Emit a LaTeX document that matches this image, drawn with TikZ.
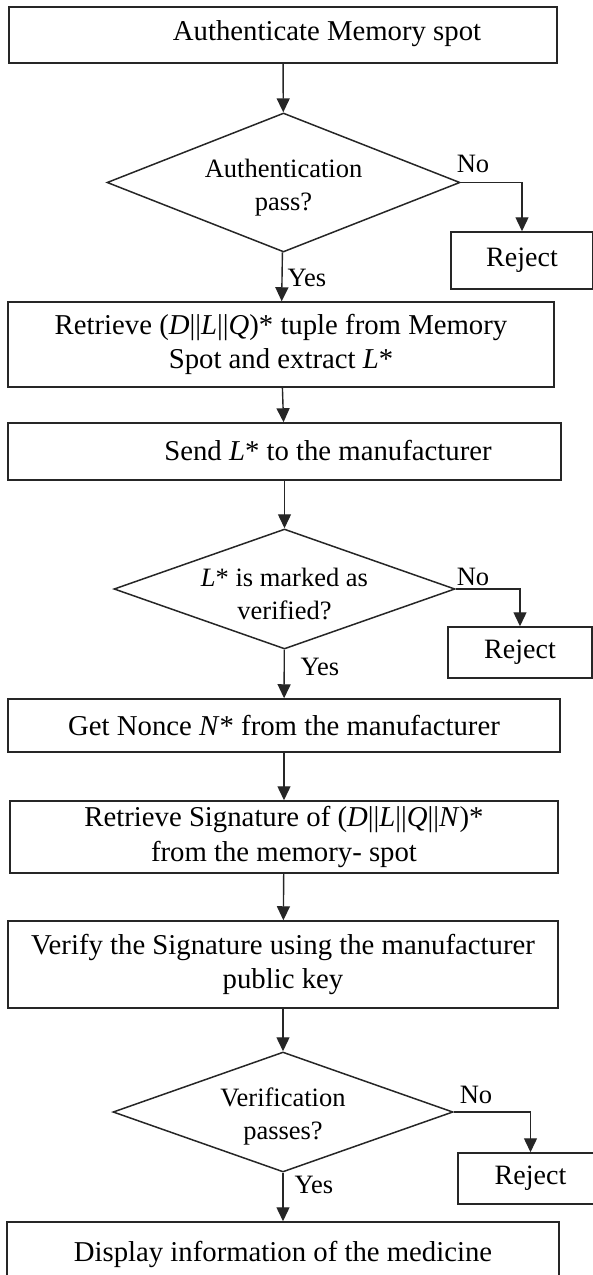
\documentclass[tikz,border=0pt]{standalone}
\usepackage{fontspec}
\setmainfont{Liberation Serif}
\usetikzlibrary{arrows.meta,shapes.geometric}
\tikzset{
  pbox/.style={rectangle, draw=black!85, line width=1.5pt, inner sep=0pt, align=center, font=\fontsize{28.75}{34.5}\selectfont},
  rbox/.style={rectangle, draw=black!85, line width=1.5pt, inner sep=0pt, font=\fontsize{28}{32}\selectfont},
  dbox/.style={diamond, draw=black!85, line width=1.5pt, inner sep=0pt},
  dtxt/.style={align=center, inner sep=0pt, font=\fontsize{26.5}{33}\selectfont},
  ann/.style={inner sep=0pt, font=\fontsize{26.5}{30}\selectfont},
}

\begin{document}
\begin{tikzpicture}[x=1pt, y=-1pt,
    flow/.style={-{Triangle[width=13pt,length=14pt]}, line width=1.4pt, draw=black!85}]

  \useasboundingbox (0,0) rectangle (593,1275);
  \clip (0,0) rectangle (593,1275);

  %% ============================================
  %% AUTHENTICATION (top)
  %% ============================================
  \node[pbox, minimum width=548pt, minimum height=56pt] (auth) at (283,35) {};
  \node[pbox, draw=none] (tauth) at (327,34) {Authenticate Memory spot};

  % first decision
  \node[dbox, minimum width=353pt, minimum height=139pt] (dia1) at (283.5,182.5) {};
  \node[dtxt] (tdia1) at (283.5,188) {Authentication\\pass?};
  \node[rbox, minimum width=142pt, minimum height=57pt] (rej1) at (522,260.5) {Reject};
  \node[ann] (no1) at (473,164) {No};
  \node[ann] (yes1) at (307,278) {Yes};

  %% ============================================
  %% L* CHECK (middle)
  %% ============================================
  \node[pbox, minimum width=546pt, minimum height=85pt] (ret) at (281,344.5)
    {Retrieve (\textit{D}||\textit{L}||\textit{Q})* tuple from Memory\\Spot and extract \textit{L}*};
  \node[pbox, minimum width=553pt, minimum height=57pt] (send) at (284.5,451.5) {};
  \node[pbox, draw=none] (tsend) at (328,451) {Send \textit{L}* to the manufacturer};

  % second decision
  \node[dbox, minimum width=341pt, minimum height=120pt] (dia2) at (284.5,589) {};
  \node[dtxt] (tdia2) at (284.5,594) {\textit{L}* is marked as\\verified?};
  \node[rbox, minimum width=144pt, minimum height=51pt] (rej2) at (520,652.5) {Reject};
  \node[ann] (no2) at (473,577) {No};
  \node[ann] (yes2) at (320,667) {Yes};

  %% ============================================
  %% SIGNATURE CHECK (bottom)
  %% ============================================
  \node[pbox, minimum width=552pt, minimum height=53pt] (nonce) at (284,725.5)
    {Get Nonce \textit{N}* from the manufacturer};
  \node[pbox, minimum width=548pt, minimum height=72pt] (sig) at (284,837)
    {Retrieve Signature of (\textit{D}||\textit{L}||\textit{Q}||\textit{N})*\\from the memory- spot};
  \node[pbox, minimum width=550pt, minimum height=87pt] (verify) at (283,964.5)
    {Verify the Signature using the manufacturer\\public key};

  % third decision
  \node[dbox, minimum width=340pt, minimum height=120pt] (dia3) at (283,1112) {};
  \node[dtxt] (tdia3) at (283,1116) {Verification\\passes?};
  \node[rbox, minimum width=145pt, minimum height=51pt] (rej3) at (530.5,1178.5) {Reject};
  \node[ann] (no3) at (476,1095) {No};
  \node[ann] (yes3) at (314,1185) {Yes};

  \node[pbox, minimum width=552pt, minimum height=64pt] (disp) at (283,1254)
    {Display information of the medicine};

  % main flow
  \draw[flow] (auth) -- (dia1);
  \draw[flow] (dia1) -- (ret);
  \draw[flow] (ret) -- (send);
  \draw[flow] (send) -- (dia2);
  \draw[flow] (dia2) -- (nonce);
  \draw[flow] (nonce) -- (sig);
  \draw[flow] (sig) -- (verify);
  \draw[flow] (verify) -- (dia3);
  \draw[flow] (dia3) -- (disp);

  % rejections
  \draw[flow] (dia1.east) -| (rej1);
  \draw[flow] (dia2.east) -| (rej2);
  \draw[flow] (dia3.east) -| (rej3);
\end{tikzpicture}
\end{document}
